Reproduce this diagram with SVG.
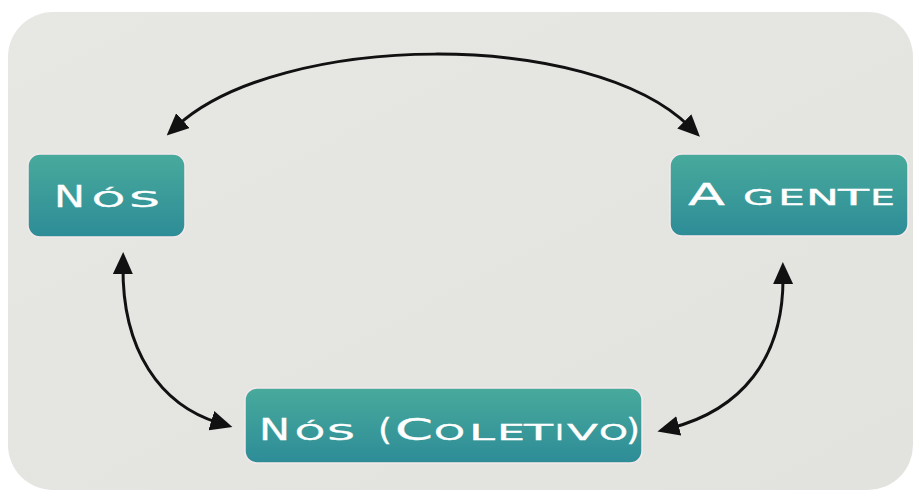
<svg xmlns="http://www.w3.org/2000/svg" width="920" height="497" viewBox="0 0 920 497">
  <defs>
    <linearGradient id="boxg" x1="0" y1="0" x2="0" y2="1">
      <stop offset="0" stop-color="#48aa9c"/>
      <stop offset="1" stop-color="#2d8c97"/>
    </linearGradient>
    <linearGradient id="bgg" x1="0" y1="0" x2="1" y2="1">
      <stop offset="0" stop-color="#e7e7e4"/>
      <stop offset="1" stop-color="#e2e2df"/>
    </linearGradient>
    <marker id="ah" viewBox="0 0 22 20" refX="8" refY="10" markerWidth="22" markerHeight="20" markerUnits="userSpaceOnUse" orient="auto-start-reverse">
      <path d="M0,0 L22,10 L0,20 z" fill="#111"/>
    </marker>
  </defs>
  <style>
    .box { fill: url(#boxg); stroke: #f4e9ea; stroke-width: 1.5; }
    .lbl { font-family: "DejaVu Sans", "Liberation Sans", sans-serif; font-size: 31px; font-variant: small-caps; fill: #ffffff; stroke: #ffffff; stroke-width: 0.3px; }
    .conn { fill: none; stroke: #111; stroke-width: 3; marker-start: url(#ah); marker-end: url(#ah); }
  </style>
  <rect x="0" y="0" width="920" height="497" fill="#ffffff"/>
  <rect x="8" y="12" width="905" height="478" rx="45" ry="45" fill="url(#bgg)"/>

  <g id="connectors">
    <path class="conn" d="M 177,126 C 280,32 590,28 690,127"/>
    <path class="conn" d="M 123,266 C 122,350 160,405 219,423"/>
    <path class="conn" d="M 783,276 C 784,360 740,410 671,428"/>
  </g>

  <g id="node-nos">
    <rect class="box" x="28" y="154" width="157" height="83" rx="12" ry="12"/>
    <text class="lbl" y="207"><tspan x="54" textLength="31" lengthAdjust="spacingAndGlyphs">N</tspan><tspan x="92" textLength="33" lengthAdjust="spacingAndGlyphs">ó</tspan><tspan x="129" textLength="31" lengthAdjust="spacingAndGlyphs">s</tspan></text>
  </g>
  <g id="node-a-gente">
    <rect class="box" x="670" y="154" width="238" height="82" rx="12" ry="12"/>
    <text class="lbl" y="205"><tspan x="688" textLength="37" lengthAdjust="spacingAndGlyphs">A</tspan> <tspan x="743" textLength="31" lengthAdjust="spacingAndGlyphs">g</tspan><tspan x="778" textLength="27" lengthAdjust="spacingAndGlyphs">e</tspan><tspan x="806" textLength="33" lengthAdjust="spacingAndGlyphs">n</tspan><tspan x="838" textLength="31" lengthAdjust="spacingAndGlyphs">t</tspan><tspan x="870" textLength="25" lengthAdjust="spacingAndGlyphs">e</tspan></text>
  </g>
  <g id="node-nos-coletivo">
    <rect class="box" x="245" y="388" width="397" height="75" rx="12" ry="12"/>
    <text class="lbl" y="440"><tspan x="259" textLength="31" lengthAdjust="spacingAndGlyphs">N</tspan><tspan x="295" textLength="30" lengthAdjust="spacingAndGlyphs">ó</tspan><tspan x="327" textLength="28" lengthAdjust="spacingAndGlyphs">s</tspan> <tspan x="378" textLength="14" lengthAdjust="spacingAndGlyphs">(</tspan><tspan x="395" textLength="38" lengthAdjust="spacingAndGlyphs">C</tspan><tspan x="434" textLength="31" lengthAdjust="spacingAndGlyphs">o</tspan><tspan x="469" textLength="26" lengthAdjust="spacingAndGlyphs">l</tspan><tspan x="497" textLength="28" lengthAdjust="spacingAndGlyphs">e</tspan><tspan x="524" textLength="29" lengthAdjust="spacingAndGlyphs">t</tspan><tspan x="555" textLength="9" lengthAdjust="spacingAndGlyphs">i</tspan><tspan x="567" textLength="31" lengthAdjust="spacingAndGlyphs">v</tspan><tspan x="599" textLength="29" lengthAdjust="spacingAndGlyphs">o</tspan><tspan x="626" textLength="14" lengthAdjust="spacingAndGlyphs">)</tspan></text>
  </g>
</svg>
